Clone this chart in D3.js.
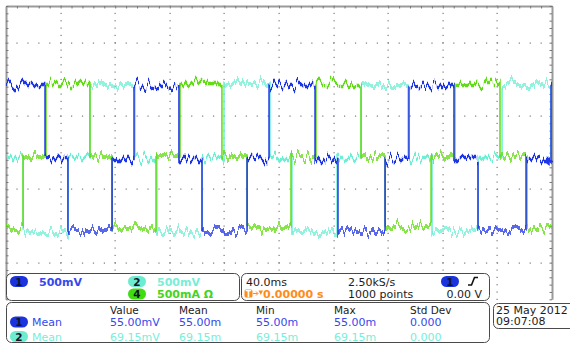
<!DOCTYPE html>
<html>
<head>
<meta charset="utf-8">
<script src="https://cdn.jsdelivr.net/npm/d3@7"></script>
<style>
  body { margin: 0; background: #fff; }
  svg { display: block; font-family: "DejaVu Sans", sans-serif; }
</style>
</head>
<body>
<div id="chart"></div>
<script>
// time base 40 ms/div, 10 div; vertical 0.5 /div, 8 div
// edge times (ms) and the level held from that time on
const ch1Edges = [0, 28.6, 45.4, 77.7, 93.8, 126.7, 143.6, 176.6, 192.7, 226.4, 243.2, 277.7, 295.2, 328.2, 345.8, 381.0, 399.3];
const ch1States = ['H','M','L','M','H','M','L','M','H','M','L','M','H','M','L','M','H'];
const ch1Levels = { H: 0.917, M: -0.079, L: -1.068 };

const ch2Edges = [0, 12.5, 45.4, 61.5, 94.5, 110.6, 143.6, 159.7, 193.4, 209.5, 242.5, 260.1, 294.5, 312.1, 345.8, 363.4, 399.3];
const ch2States = ['M','L','M','H','M','L','M','H','M','L','M','H','M','L','M','H','M'];
const ch2Levels = { H: 0.923, M: -0.065, L: -1.081 };

const ch4Edges = [0, 12.5, 29.3, 61.5, 77.7, 109.9, 127.5, 158.2, 176.6, 208.8, 227.1, 260.1, 277.7, 311.4, 328.9, 361.9, 381.7];
const ch4States = ['L','M','H','M','L','M','H','M','L','M','H','M','L','M','H','M','L'];
const ch4Levels = { H: 0.944, M: -0.045, L: -1.027 };

const triggerLevel = -0.12;

const measHeaders = ['Value', 'Mean', 'Min', 'Max', 'Std Dev'];
const meas1 = ['55.00mV', '55.00m', '55.00m', '55.00m', '0.000'];
const meas2 = ['69.15mV', '69.15m', '69.15m', '69.15m', '0.000'];

const BLUE = '#1f36e6', CYAN = '#6cefd3', GREEN = '#62dc16';
const BLUE_TXT = '#3548ee', CYAN_TXT = '#78eed8', GREEN_TXT = '#45d41f';

const svg = d3.select('#chart').append('svg').attr('width', 570).attr('height', 345);

const x = d3.scaleLinear().domain([0, 400]).range([6, 552]);
const y = d3.scaleLinear().domain([-2, 2]).range([299.3, 6]);

const minorT = d3.range(0, 400.01, 8);
const majorT = d3.range(40, 400, 40);
const minorV = d3.range(-2, 2.001, 0.1);
const rowV = [-1.5, -0.5, 0.5, 1.5];

// trace noise look
const defs = svg.append('defs');
[['n1', 3], ['n2', 7], ['n4', 11]].forEach(([id, seed]) => {
    const f = defs.append('filter').attr('id', id)
        .attr('filterUnits', 'userSpaceOnUse')
        .attr('x', 0).attr('y', 0).attr('width', 570).attr('height', 345);
    f.append('feTurbulence').attr('type', 'fractalNoise')
        .attr('baseFrequency', '0.3 0.02').attr('numOctaves', 2)
        .attr('seed', seed).attr('result', 'turb');
    f.append('feColorMatrix').attr('in', 'turb').attr('type', 'matrix')
        .attr('values', '0 0 0 0 0.5  0 1 0 0 0  0 0 0 0 0  0 0 0 0 1')
        .attr('result', 'map');
    f.append('feDisplacementMap').attr('in', 'SourceGraphic').attr('in2', 'map')
        .attr('scale', 20).attr('xChannelSelector', 'R').attr('yChannelSelector', 'G')
        .attr('result', 'disp');
    f.append('feMorphology').attr('in', 'disp').attr('operator', 'dilate').attr('radius', '0 1');
});

// graticule
const grid = svg.append('g').attr('fill', '#7a7a7a');
majorT.forEach(t => {
    grid.selectAll(null).data(minorV).enter().append('rect')
        .attr('x', Math.round(x(t)) - 0.5).attr('y', d => y(d) - 0.5)
        .attr('width', 1.2).attr('height', 1.2);
});
rowV.forEach(v => {
    grid.selectAll(null).data(minorT).enter().append('rect')
        .attr('x', d => x(d) - 0.5).attr('y', Math.round(y(v)) - 0.5)
        .attr('width', 1.2).attr('height', 1.2);
});

// frame
function frame(g) {
    g.select('.domain').attr('stroke', '#9a9a9a').attr('stroke-width', 2);
    g.selectAll('.tick line').attr('stroke', '#777');
}
svg.append('g').attr('transform', `translate(0,${y(2)})`)
    .call(d3.axisTop(x).tickValues(minorT).tickSize(-2.5).tickSizeOuter(0).tickFormat(''))
    .call(frame);
svg.append('g').attr('transform', `translate(${x(0)},0)`)
    .call(d3.axisLeft(y).tickValues(minorV).tickSize(-2.5).tickSizeOuter(0).tickFormat(''))
    .call(frame);
svg.append('g').attr('transform', `translate(${x(400)},0)`)
    .call(d3.axisRight(y).tickValues(minorV).tickSize(-2.5).tickSizeOuter(0).tickFormat(''))
    .call(frame);

// traces
function steps(edges, states, levels) {
    const pts = edges.map((t, i) => ({ t, v: levels[states[i]] }));
    pts.push({ t: 400, v: levels[states[states.length - 1]] });
    return pts;
}
const line = d3.line().x(d => x(d.t)).y(d => y(d.v)).curve(d3.curveStepAfter);
const traces = [
    { pts: steps(ch2Edges, ch2States, ch2Levels), color: CYAN, f: 'n2' },
    { pts: steps(ch4Edges, ch4States, ch4Levels), color: GREEN, f: 'n4' },
    { pts: steps(ch1Edges, ch1States, ch1Levels), color: BLUE, f: 'n1' }
];
traces.forEach(tr => {
    svg.append('path').datum(tr.pts)
        .attr('fill', 'none').attr('stroke', tr.color)
        .attr('stroke-width', 1.5).attr('filter', `url(#${tr.f})`)
        .attr('d', line);
});

// trigger level marker
const ty = y(triggerLevel);
svg.append('path')
    .attr('d', `M${x(400) - 7},${ty} L${x(400) - 3},${ty - 3} L${x(400) - 3},${ty + 3} Z M${x(400) - 4},${ty} L${x(400) + 1},${ty}`)
    .attr('fill', BLUE).attr('stroke', BLUE).attr('stroke-width', 1.5);

// readout panels
function panel(x0, y0, w, h) {
    svg.append('rect').attr('x', x0).attr('y', y0).attr('width', w).attr('height', h)
        .attr('rx', 5).attr('fill', '#fff').attr('stroke', '#4a4a4a').attr('stroke-width', 1);
}
panel(6.5, 273.5, 233, 27);
panel(241.5, 273.5, 248, 27);
panel(6.5, 302.5, 483, 40);
panel(493.5, 303.5, 90, 25);

function pill(x0, y0, color, label) {
    svg.append('rect').attr('x', x0).attr('y', y0).attr('width', 18).attr('height', 11)
        .attr('rx', 5.5).attr('fill', color);
    svg.append('text').attr('x', x0 + 9).attr('y', y0 + 9.5).attr('text-anchor', 'middle')
        .attr('font-size', 10.5).attr('font-weight', 'bold').attr('fill', '#10162a').text(label);
}
function txt(x0, y0, s, color, opts = {}) {
    return svg.append('text').attr('x', x0).attr('y', y0)
        .attr('font-size', opts.size || 11).attr('font-weight', opts.bold ? 'bold' : 'normal')
        .attr('text-anchor', opts.anchor || 'start').attr('fill', color).text(s);
}

// channel panel
pill(10, 276, '#1a33dd', '1');
txt(39, 285.5, '500mV', BLUE_TXT, { bold: true });
pill(128, 276, '#6eecd0', '2');
txt(157, 285.5, '500mV', CYAN_TXT, { bold: true });
pill(128, 288.5, '#3fdc10', '4');
txt(157, 297.5, '500mA Ω', GREEN_TXT, { bold: true });

// timebase / trigger panel
txt(246, 285.5, '40.0ms', '#1c1c1c');
txt(348, 285.5, '2.50kS/s', '#1c1c1c');
pill(441, 276, '#1a33dd', '1');
svg.append('path').attr('d', 'M468,285 L471.5,285 L474.5,277.5 L478,277.5')
    .attr('fill', 'none').attr('stroke', '#111').attr('stroke-width', 1.6);
svg.append('rect').attr('x', 244.5).attr('y', 289.5).attr('width', 8).attr('height', 8)
    .attr('rx', 1.5).attr('fill', '#ff8c1a');
txt(248.5, 296.5, 'T', '#fff', { size: 8, bold: true, anchor: 'middle' });
svg.append('path').attr('d', 'M253,293.5 L257.5,293.5 M256,291.5 L258,293.5 L256,295.5')
    .attr('fill', 'none').attr('stroke', '#ff8c1a').attr('stroke-width', 1);
svg.append('path').attr('d', 'M258.5,290.5 L263,290.5 L260.75,295 Z').attr('fill', '#ff8c1a');
txt(263, 297.5, '0.00000 s', '#ff8c1a', { bold: true });
txt(348, 297.5, '1000 points', '#1c1c1c');
txt(482, 297.5, '0.00 V', '#1c1c1c', { anchor: 'end' });

// measurement panel
const colX = [110, 179, 256, 334, 410];
measHeaders.forEach((h, i) => txt(colX[i], 313.5, h, '#1c1c1c', { size: 10.5 }));
pill(10, 316.5, '#1a33dd', '1');
txt(32, 326, 'Mean', BLUE_TXT);
meas1.forEach((m, i) => txt(colX[i], 326, m, BLUE_TXT));
pill(10, 331, '#6eecd0', '2');
txt(32, 340.5, 'Mean', CYAN_TXT);
meas2.forEach((m, i) => txt(colX[i], 340.5, m, CYAN_TXT));

// date box
txt(496, 313.5, '25 May 2012', '#1c1c1c');
txt(496, 325, '09:07:08', '#1c1c1c');
</script>
</body>
</html>
